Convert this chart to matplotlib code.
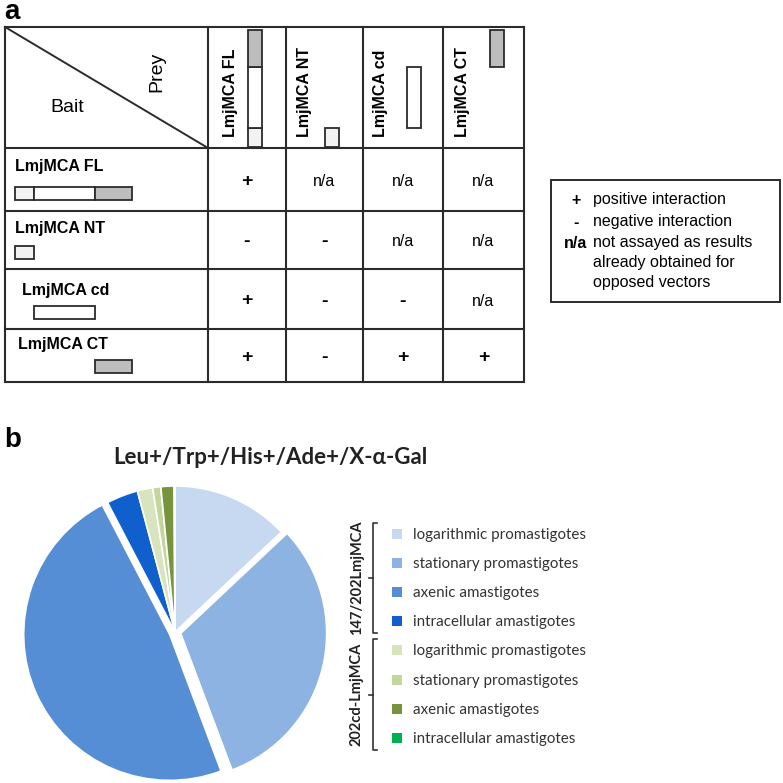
import matplotlib.pyplot as plt
from matplotlib.patches import Rectangle

# ---- panel a: yeast two-hybrid matrix ----
prey_names = ["LmjMCA FL", "LmjMCA NT", "LmjMCA cd", "LmjMCA CT"]
bait_names = ["LmjMCA FL", "LmjMCA NT", "LmjMCA cd", "LmjMCA CT"]
results = [["+", "n/a", "n/a", "n/a"],
           ["-", "-", "n/a", "n/a"],
           ["+", "-", "-", "n/a"],
           ["+", "-", "+", "+"]]
# domains present in each construct (0 = NT, 1 = cd, 2 = CT)
construct_domains = [[0, 1, 2], [0], [1], [2]]
key_symbols = ["+", "-", "n/a"]
key_texts = ["positive interaction", "negative interaction",
             "not assayed as results\nalready obtained for\nopposed vectors"]

# ---- panel b: pie of clones ----
title_b = "Leu+/Trp+/His+/Ade+/X-\u03b1-Gal"
stages = ["logarithmic promastigotes", "stationary promastigotes",
          "axenic amastigotes", "intracellular amastigotes"]
constructs = ["147/202LmjMCA", "202cd-LmjMCA"]
share_147 = [13.0, 31.3, 48.1, 3.5]
share_202cd = [1.7, 0.9, 1.45, 0.1]
colors_147 = ["#C6D9F1", "#8DB3E2", "#558ED5", "#0F5FCC"]
colors_202cd = ["#D7E4BD", "#C3D69B", "#77933C", "#00B050"]

# layout (pixels)
col_x = [5, 208, 286, 363, 443, 524]
row_y = [27, 148, 211, 269, 329, 382]
dom_len = [19, 61, 37]
dom_col = ["#F2F2F2", "white", "#BDBDBD"]
LINE = "#2b2b2b"

fig = plt.figure(figsize=(7.83, 7.83), dpi=100)
ax = fig.add_axes([0, 0, 1, 1])
ax.set_xlim(0, 783)
ax.set_ylim(783, 0)
ax.axis("off")

SANS = ["Liberation Sans", "DejaVu Sans"]
CAL = ["Lato", "DejaVu Sans"]

ax.text(4, 12, "a", fontsize=20, fontweight="bold", family=SANS, va="center")
ax.text(4, 440, "b", fontsize=20, fontweight="bold", family=SANS, va="center")

# grid
for x in col_x:
    ax.plot([x, x], [row_y[0], row_y[-1]], color=LINE, lw=1.5)
for y in row_y:
    ax.plot([col_x[0], col_x[-1]], [y, y], color=LINE, lw=1.5)
ax.plot([col_x[0], col_x[1]], [row_y[0], row_y[1]], color=LINE, lw=1.4)
ax.text(157, 72, "Prey", rotation=90, fontsize=14, family=SANS, ha="center", va="center")
ax.text(67, 108, "Bait", fontsize=14, family=SANS, ha="center", va="center")

# column headers (prey)
head_x = [230, 305, 381, 463]
bar_x = [248, 325, 407, 490]
for j, name in enumerate(prey_names):
    ax.text(head_x[j], 137, name, rotation=90, fontsize=11.5, fontweight="bold",
            family=SANS, ha="center", va="bottom")
    for d in construct_domains[j]:
        y0 = 147 - sum(dom_len[:d + 1])
        ax.add_patch(Rectangle((bar_x[j], y0), 14, dom_len[d], facecolor=dom_col[d],
                               edgecolor=LINE, lw=1.3))

# row headers (bait)
lab_x = [15, 15, 22, 18]
lab_y = [167, 228, 290, 345]
box_y = [187, 246, 306, 360]
for i, name in enumerate(bait_names):
    ax.text(lab_x[i], lab_y[i], name, fontsize=11.5, fontweight="bold",
            family=SANS, ha="left", va="center")
    for d in construct_domains[i]:
        x0 = 15 + sum(dom_len[:d])
        ax.add_patch(Rectangle((x0, box_y[i]), dom_len[d], 13, facecolor=dom_col[d],
                               edgecolor=LINE, lw=1.3))

# cells
for i, row in enumerate(results):
    yc = (row_y[i + 1] + row_y[i + 2]) / 2 + 2
    for j, val in enumerate(row):
        xc = (col_x[j + 1] + col_x[j + 2]) / 2
        if val == "n/a":
            ax.text(xc, yc, val, fontsize=11.5, family=SANS, ha="center", va="center")
        else:
            ax.text(xc, yc, val, fontsize=14, fontweight="bold", family=SANS,
                    ha="center", va="center")

# key box
ax.add_patch(Rectangle((551, 180), 229, 122, facecolor="white", edgecolor=LINE, lw=1.4))
key_y = [200, 222, 243]
for s, t, y in zip(key_symbols, key_texts, key_y):
    ax.text(576, y, s, fontsize=11.5, fontweight="bold", family=SANS, ha="center", va="center")
    ax.text(593, y - 8, t, fontsize=11.5, family=SANS, ha="left", va="top", linespacing=1.4)

# ---- pie ----
R = 146
cx, cy = 175, 632
half = 1.2 * R
pax = fig.add_axes([(cx - half) / 783, (783 - cy - half) / 783, 2 * half / 783, 2 * half / 783])
values = share_147 + share_202cd
colors = colors_147 + colors_202cd
explode = [0, 0.04, 0.04, 0, 0, 0, 0, 0]
pax.pie(values, colors=colors, startangle=90, counterclock=False, explode=explode,
        wedgeprops=dict(edgecolor="white", linewidth=1.2))
pax.set_xlim(-1.2, 1.2)
pax.set_ylim(-1.2, 1.2)
pax.set_aspect("equal")
pax.axis("off")

ax.text(270, 458, title_b, fontsize=16, fontweight="bold", family=CAL,
        ha="center", va="center", color="#222222")

# legend with brackets
leg_y0, leg_dy = 534, 29.1
for g, (grp, cols) in enumerate(zip(constructs, [colors_147, colors_202cd])):
    for k, st in enumerate(stages):
        y = leg_y0 + (4 * g + k) * leg_dy
        ax.add_patch(Rectangle((392, y - 5), 10, 10, facecolor=cols[k], edgecolor="none"))
        ax.text(413, y + 1, st, fontsize=10.9, family=CAL, ha="left", va="center",
                color="#333333")
    top = leg_y0 - 11 + 4 * g * leg_dy
    bot = top + 4 * leg_dy - 6
    mid = (top + bot) / 2
    ax.plot([377, 373, 373, 377], [top, top, bot, bot], color="#333333", lw=1.2)
    ax.plot([373, 369], [mid, mid], color="#333333", lw=1.2)
    ax.text(357, mid, grp, rotation=90, fontsize=10.5, fontweight="bold", family=CAL,
            ha="center", va="center", color="#222222")

fig.savefig("out.png", dpi=100)
